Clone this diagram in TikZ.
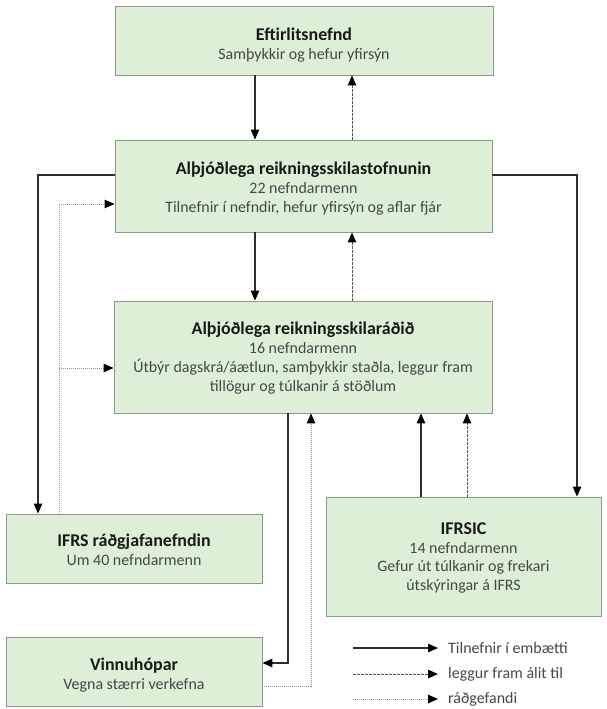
\documentclass[tikz,border=0pt]{standalone}
\usepackage{fontspec}
\setmainfont{Carlito}
\usetikzlibrary{arrows.meta}
\definecolor{boxfill}{RGB}{221,240,215}
\definecolor{boxline}{RGB}{140,152,140}
\definecolor{titlecol}{RGB}{25,25,25}
\definecolor{subcol}{RGB}{70,70,70}
\definecolor{solidcol}{RGB}{45,45,45}
\definecolor{dashcol}{RGB}{80,80,80}
\definecolor{dotcol}{RGB}{150,150,150}
\tikzset{
  orgbox/.style={draw=boxline, fill=boxfill, line width=0.9bp, inner sep=0pt},
  boxtext/.style={align=center, text=subcol, inner sep=0pt, font={\fontsize{16}{19}\selectfont}},
  tip/.style={-{Triangle[length=10bp,width=8.5bp,color=black]}},
  solidarr/.style={tip, draw=solidcol, line width=1.2bp},
  dasharr/.style={tip, draw=dashcol, line width=1bp, dash pattern=on 2.5bp off 1.5bp},
  dotarr/.style={tip, draw=dotcol, line width=1bp, dash pattern=on 1bp off 1bp},
  legtext/.style={anchor=west, text=subcol, inner sep=0pt, font={\fontsize{16}{18}\selectfont}}
}
\newcommand{\ttlfont}[1]{{\fontsize{18}{19}\selectfont\bfseries\color{titlecol}#1}}
\begin{document}
\begin{tikzpicture}[x=1bp,y=-1bp]
\useasboundingbox (0,0) rectangle (607,709);
% boxes
\node[orgbox, minimum width=378bp, minimum height=69bp] (b1) at (304,40.5) {};
\node[orgbox, minimum width=377bp, minimum height=92bp] (b2) at (303.5,186) {};
\node[orgbox, minimum width=378bp, minimum height=112bp] (b3) at (303,357) {};
\node[orgbox, minimum width=256bp, minimum height=69bp] (ifrs) at (134,548.5) {};
\node[orgbox, minimum width=275bp, minimum height=119bp] (ifrsic) at (463.5,556.5) {};
\node[orgbox, minimum width=256bp, minimum height=69bp] (vinnu) at (134,671.5) {};
% box texts
\node[boxtext, yshift=-4.5bp] (b1t) at (b1.center)
  {\ttlfont{Eftirlitsnefnd}\\Samþykkir og hefur yfirsýn};
\node[boxtext, yshift=-2.5bp] (b2t) at (b2.center)
  {\ttlfont{Alþjóðlega reikningsskilastofnunin}\\22 nefndarmenn\\Tilnefnir í nefndir, hefur yfirsýn og aflar fjár};
\node[boxtext, yshift=-1bp] (b3t) at (b3.center)
  {\ttlfont{Alþjóðlega reikningsskilaráðið}\\16 nefndarmenn\\Útbýr dagskrá/áætlun, samþykkir staðla, leggur fram\\tillögur og túlkanir á stöðlum};
\node[boxtext, yshift=-1.5bp] (ifrst) at (ifrs.center)
  {\ttlfont{IFRS ráðgjafanefndin}\\Um 40 nefndarmenn};
\node[boxtext, yshift=-1.5bp] (ifrsict) at (ifrsic.center)
  {\ttlfont{IFRSIC}\\14 nefndarmenn\\Gefur út túlkanir og frekari\\útskýringar á IFRS};
\node[boxtext, yshift=-3.5bp] (vinnut) at (vinnu.center)
  {\ttlfont{Vinnuhópar}\\Vegna stærri verkefna};
% guide coordinates
\coordinate (xA) at (255,0);
\coordinate (xB) at (352,0);
\coordinate (xL) at (38,175);
\coordinate (xR) at (577,175);
\coordinate (xD) at (59,0);
\coordinate (yD1) at (0,204);
\coordinate (yD2) at (0,368);
\coordinate (xS) at (421,0);
\coordinate (xT) at (467,0);
\coordinate (xV) at (288,663);
\coordinate (xW) at (311,686);
% connectors
\draw[solidarr] (xA |- b1.south) -- (xA |- b2.north);
\draw[dasharr] (xB |- b2.north) -- (xB |- b1.south);
\draw[solidarr] (xA |- b2.south) -- (xA |- b3.north);
\draw[dasharr] (xB |- b3.north) -- (xB |- b2.south);
\draw[solidarr] (b2.west |- xL) -- (xL) -- (xL |- ifrs.north);
\draw[solidarr] (b2.east |- xR) -- (xR) -- (xR |- ifrsic.north);
\draw[dotarr] (xD |- ifrs.north) -- (xD |- yD1) -- (b2.west |- yD1);
\draw[dotarr] (xD |- yD2) -- (b3.west |- yD2);
\draw[solidarr] (xS |- ifrsic.north) -- (xS |- b3.south);
\draw[dasharr] (xT |- ifrsic.north) -- (xT |- b3.south);
\draw[solidarr] (xV |- b3.south) -- (xV) -- (vinnu.east |- xV);
\draw[dotarr] (vinnu.east |- xW) -- (xW) -- (xW |- b3.south);
% legend
\coordinate (l1a) at (353,648); \coordinate (l1b) at (438,648);
\coordinate (l2a) at (353,674); \coordinate (l2b) at (438,674);
\coordinate (l3a) at (353,699); \coordinate (l3b) at (438,699);
\draw[solidarr] (l1a) -- (l1b);
\draw[dasharr] (l2a) -- (l2b);
\draw[dotarr] (l3a) -- (l3b);
\node[legtext] (t1) at (448,648) {Tilnefnir í embætti};
\node[legtext] (t2) at (448,674) {leggur fram álit til};
\node[legtext] (t3) at (448,699) {ráðgefandi};
\end{tikzpicture}
\end{document}
